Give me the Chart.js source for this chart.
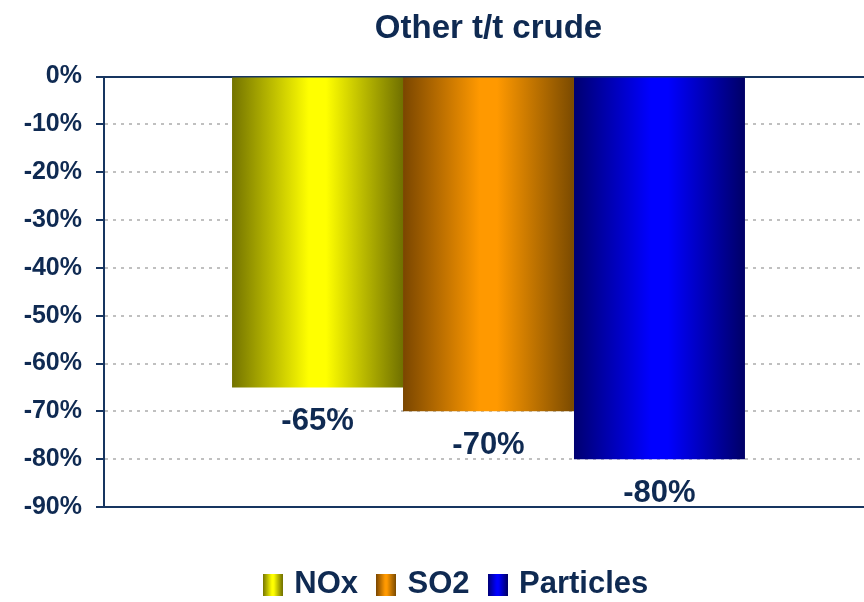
<!DOCTYPE html>
<html>
<head>
<meta charset="utf-8">
<title>Other t/t crude</title>
<script src="https://cdn.jsdelivr.net/npm/chart.js@4/dist/chart.umd.min.js"></script>
<style>
  html, body { margin: 0; padding: 0; background: #fff; overflow: hidden; }
  /* the plot runs a little past the right edge of the window, as in the original */
  #wrap { width: 873px; height: 602px; }
</style>
</head>
<body>
<div id="wrap"><canvas id="chart"></canvas></div>
<script>
// data
const categories = [''];
const seriesNames = ['NOx', 'SO2', 'Particles'];
const seriesValues = [[-65], [-70], [-80]];
const yTicks = { min: -90, max: 0, step: 10 };

// styles
const NAVY = '#0f2a52';
const LINE = '#173560';
const FONT = '"Liberation Sans", Arial, sans-serif';
// left edge / bright middle / right edge of each bar's shading
const shades = [
  ['#737300', '#ffff00', '#ffff00', '#707000'],
  ['#7a4600', '#ff9900', '#ff9900', '#7a4a00'],
  ['#000070', '#0000ff', '#0000ff', '#000066']
];
const shadeStops = [0, 0.45, 0.55, 1];
const LEGEND_SHIFT = 21;

const fillShade = (g, i) => {
  shades[i].forEach((c, k) => g.addColorStop(shadeStops[k], c));
  return g;
};

// small gradient squares for the legend
const legendIcons = shades.map((s, i) => {
  const cv = document.createElement('canvas');
  cv.width = 20; cv.height = 22;
  const cx = cv.getContext('2d');
  cx.fillStyle = fillShade(cx.createLinearGradient(0, 0, 20, 0), i);
  cx.fillRect(0, 0, 20, 22);
  return cv;
});

// legend sits a bit right of the canvas centre in the original
const legendNudge = {
  id: 'legendNudge',
  afterLayout(chart) {
    if (!chart.legend) return;
    chart.legend.left += LEGEND_SHIFT;
    chart.legend.right += LEGEND_SHIFT;
  }
};

// paints the horizontal shading onto each bar once it has been laid out
const barShading = {
  id: 'barShading',
  beforeDatasetsDraw(chart) {
    const ctx = chart.ctx;
    chart.data.datasets.forEach((ds, i) => {
      chart.getDatasetMeta(i).data.forEach(el => {
        const { x, width } = el.getProps(['x', 'width'], true);
        const g = fillShade(ctx.createLinearGradient(x - width / 2, 0, x + width / 2, 0), i);
        el.options = Object.assign({}, el.options, { backgroundColor: g });
      });
    });
  }
};

// value labels under the bar ends
const valueLabels = {
  id: 'valueLabels',
  afterDatasetsDraw(chart) {
    const ctx = chart.ctx;
    ctx.save();
    ctx.font = 'bold 31px ' + FONT;
    ctx.fillStyle = NAVY;
    ctx.textAlign = 'center';
    ctx.textBaseline = 'middle';
    chart.data.datasets.forEach((ds, i) => {
      chart.getDatasetMeta(i).data.forEach((el, j) => {
        const { x, y } = el.getProps(['x', 'y'], true);
        ctx.fillText(ds.data[j] + '%', x, y + 34);
      });
    });
    ctx.restore();
  }
};

new Chart(document.getElementById('chart'), {
  type: 'bar',
  data: {
    labels: categories,
    datasets: seriesNames.map((name, i) => ({
      label: name,
      data: seriesValues[i],
      backgroundColor: shades[i][1],
      borderWidth: 0,
      categoryPercentage: 0.667,
      barPercentage: 1.0
    }))
  },
  options: {
    responsive: true,
    maintainAspectRatio: false,
    animation: false,
    layout: { padding: { left: 0, right: 0, top: 0, bottom: -8 } },
    scales: {
      x: {
        type: 'category',
        position: 'bottom',
        grid: { display: false, drawTicks: false },
        ticks: { display: false },
        border: { display: true, color: LINE, width: 2 },
        afterFit: s => { s.height = 40; }
      },
      xTop: {
        type: 'category',
        position: 'top',
        grid: { display: false, drawTicks: false },
        ticks: { display: false },
        border: { display: true, color: LINE, width: 2 },
        afterFit: s => { s.height = 0; }
      },
      y: {
        min: yTicks.min,
        max: yTicks.max,
        ticks: {
          stepSize: yTicks.step,
          padding: 14,
          color: NAVY,
          font: { family: FONT, size: 25, weight: 'bold' },
          callback: v => v + '%'
        },
        grid: {
          color: c => (c.tick && (c.tick.value === 0 || c.tick.value === yTicks.min)) ? 'rgba(0,0,0,0)' : '#c0c0c0',
          lineWidth: 2,
          tickColor: LINE,
          tickLength: 8,
          tickWidth: 2
        },
        border: { display: true, color: LINE, width: 2, dash: [3, 5] },
        afterFit: s => { s.width = 104; }
      }
    },
    plugins: {
      title: {
        display: true,
        text: 'Other t/t crude',
        fullSize: false,
        color: NAVY,
        font: { family: FONT, size: 33, weight: 'bold' },
        padding: { top: 9, bottom: 28 }
      },
      legend: {
        position: 'bottom',
        labels: {
          usePointStyle: true,
          boxWidth: 12,
          padding: 22,
          color: NAVY,
          font: { family: FONT, size: 31, weight: 'bold' },
          generateLabels: chart => Chart.defaults.plugins.legend.labels.generateLabels(chart)
            .map((item, i) => Object.assign(item, { pointStyle: legendIcons[i] }))
        }
      },
      tooltip: { enabled: false }
    }
  },
  plugins: [legendNudge, barShading, valueLabels]
});
</script>
</body>
</html>
